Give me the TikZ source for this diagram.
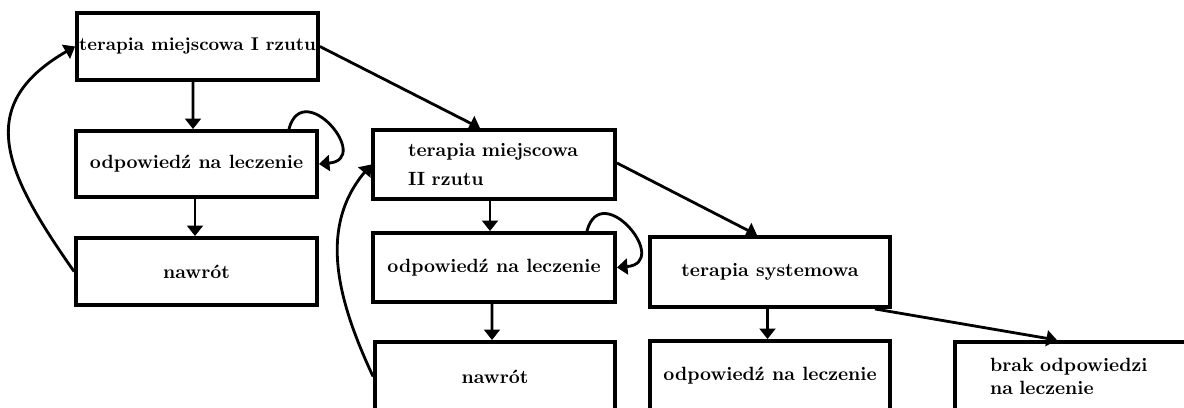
\documentclass[tikz,border=0pt]{standalone}
\usepackage{tikz}
\usetikzlibrary{arrows.meta,calc}

\begin{document}
\begin{tikzpicture}[>={Triangle[width=9pt,length=6pt]},
    box/.style={rectangle, draw=black, line width=2.2pt, minimum width=4.82cm, minimum height=1.34cm, inner sep=0pt,
                font=\fontsize{10.9}{13}\selectfont\bfseries},
    line width=1.6pt]
  \useasboundingbox (0,0) rectangle (23.68,-8.14);
  \clip (0,0) rectangle (23.68,-8.14);

  % pierwsza kolumna
  \node[box, font=\fontsize{10.5}{13}\selectfont\bfseries] (t1) at (3.95,-0.93) {terapia miejscowa I rzutu};
  \node[box, minimum height=1.32cm] (o1) at (3.93,-3.28) {odpowied\'z na leczenie};
  \node[box] (n1) at (3.93,-5.43) {nawr\'ot};

  % druga kolumna
  \node[box, minimum width=4.84cm, minimum height=1.38cm, align=left, text width=3.64cm, inner xsep=0.6cm]
      (t2) at (9.88,-3.29) {\hspace*{0.1cm}terapia miejscowa\\[3pt] \hspace*{0.1cm}II rzutu};
  \node[box, minimum width=4.84cm, minimum height=1.38cm] (o2) at (9.88,-5.35) {odpowied\'z na leczenie};
  \node[box, minimum width=4.8cm, minimum height=1.38cm] (n2) at (9.9,-7.53) {nawr\'ot};

  % terapia systemowa
  \node[box, minimum width=4.8cm, minimum height=1.4cm] (ts) at (15.4,-5.44) {terapia systemowa};
  \node[box, minimum width=4.8cm, minimum height=1.38cm] (o3) at (15.4,-7.51) {odpowied\'z na leczenie};
  \node[box, minimum width=4.8cm, minimum height=1.38cm, align=left, text width=3.4cm, inner xsep=0.7cm]
      (bo) at (21.5,-7.53) {brak odpowiedzi\\ na leczenie};

  \draw[->] ($(t1.south)+(-0.09,0)$) -- ($(o1.north)+(-0.07,0)$);
  \draw[->] ($(o1.south)+(-0.03,0)$) -- ($(n1.north)+(-0.03,0)$);
  \draw[->] (o1.north east) ++(-0.6,0) coordinate (o1s) to[out=75, in=5, looseness=3] (o1.east);
  \draw[->] (n1.west) to[out=125, in=210, looseness=1.35] (t1.west);

  \draw[->] (t1.east) -- ($(t2.north)+(-0.28,0)$);
  \draw[->] ($(t2.south)+(-0.08,0)$) -- ($(o2.north)+(-0.08,0)$);
  \draw[->] ($(o2.south)+(-0.04,0)$) -- ($(n2.north)+(-0.06,0)$);
  \draw[->] (o2.north east) ++(-0.6,0) coordinate (o2s) to[out=75, in=5, looseness=3] (o2.east);
  \draw[->] (n2.west) to[out=115, in=230] (t2.west);

  \draw[->] ($(t2.east)+(0,0.03)$) -- ($(ts.north)+(-0.26,0)$);
  \draw[->] ($(ts.south)+(-0.05,0)$) -- ($(o3.north)+(-0.05,0)$);
  \draw[->] ($(ts.south east)+(-0.34,0)$) -- ($(bo.north)+(-0.36,0)$);
\end{tikzpicture}
\end{document}
